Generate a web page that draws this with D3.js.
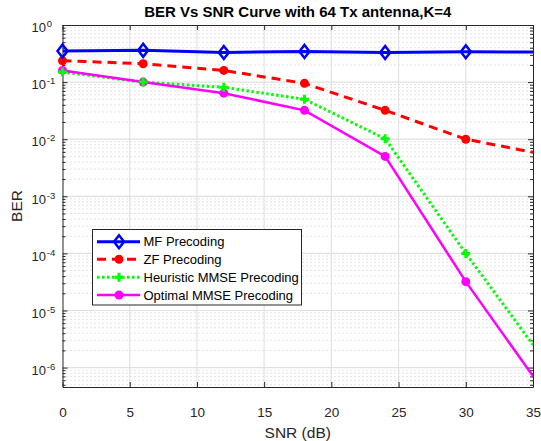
<!DOCTYPE html>
<html><head><meta charset="utf-8">
<script src="https://cdn.jsdelivr.net/npm/d3@7"></script>
<style>body{margin:0;background:#fff;} svg{display:block;} text{font-family:"Liberation Sans",Arial,sans-serif;}</style>
</head><body>
<svg id="c" width="541" height="441"></svg>
<script>
const snr = [0, 6, 12, 18, 24, 30, 36];
const berMF = [0.35, 0.36, 0.33, 0.345, 0.33, 0.34, 0.335];
const berZF = [0.237, 0.21, 0.16, 0.095, 0.032, 0.01, 0.0053];
const berHeur = [0.15, 0.1, 0.081, 0.05, 0.0102, 1e-4, 1.2e-6];
const berOpt = [0.16, 0.1, 0.064, 0.032, 0.005, 3.2e-5, 3.3e-7];
const xTicks = [0, 5, 10, 15, 20, 25, 30, 35];
const yExps = [0, -1, -2, -3, -4, -5, -6];
const title = "BER Vs SNR Curve with 64 Tx antenna,K=4";
const xLabel = "SNR (dB)";
const yLabel = "BER";
const seriesNames = ["MF Precoding", "ZF Precoding", "Heuristic MMSE Precoding", "Optimal MMSE Precoding"];

const svg = d3.select("#c");
const L = 62.5, R = 533, T = 25, B = 387;
const x = d3.scaleLinear().domain([0, 35]).range([L, R]);
const y = d3.scaleLog().domain([Math.pow(10, -6.34), 1]).range([B, T]);

svg.append("defs").append("clipPath").attr("id", "clip")
  .append("rect").attr("x", L).attr("y", T).attr("width", R - L).attr("height", B - T);

// minor y grid (dotted)
const minorVals = [];
for (let e = -7; e < 0; e++) for (let m = 2; m <= 9; m++) {
  const v = m * Math.pow(10, e);
  if (v >= y.domain()[0] && v <= 1) minorVals.push(v);
}
const g = svg.append("g");
g.selectAll(".mg").data(minorVals).enter().append("line")
  .attr("x1", L).attr("x2", R).attr("y1", d => y(d)).attr("y2", d => y(d))
  .attr("stroke", "#c8c8c8").attr("stroke-width", 1).attr("stroke-dasharray", "1,3");
// major grids
g.selectAll(".xg").data(xTicks.slice(1, -1)).enter().append("line")
  .attr("x1", d => x(d)).attr("x2", d => x(d)).attr("y1", T).attr("y2", B)
  .attr("stroke", "#e3e3e3").attr("stroke-width", 1.2);
g.selectAll(".yg").data(yExps.slice(1)).enter().append("line")
  .attr("x1", L).attr("x2", R).attr("y1", d => y(Math.pow(10, d))).attr("y2", d => y(Math.pow(10, d)))
  .attr("stroke", "#e0e0e0").attr("stroke-width", 1.2);

// axes box
const axCol = "#262626";
const bottomAxis = d3.axisBottom(x).tickValues(xTicks).tickSizeInner(-5).tickSizeOuter(0).tickPadding(20).tickFormat(d3.format("d"));
const gx = svg.append("g").attr("transform", `translate(0,${B})`).call(bottomAxis);
gx.select(".domain").attr("stroke", axCol);
gx.selectAll(".tick line").attr("stroke", axCol);
gx.selectAll("text").attr("font-size", 13.5).attr("fill", axCol);
const topAxis = d3.axisTop(x).tickValues(xTicks).tickSizeInner(-5).tickSizeOuter(0).tickFormat("");
const gt = svg.append("g").attr("transform", `translate(0,${T})`).call(topAxis);
gt.select(".domain").attr("stroke", axCol); gt.selectAll(".tick line").attr("stroke", axCol);

const majorY = yExps.map(e => Math.pow(10, e));
const gl = svg.append("g").attr("transform", `translate(${L},0)`)
  .call(d3.axisLeft(y).tickValues(majorY).tickSizeInner(-5).tickSizeOuter(0).tickFormat(""));
gl.select(".domain").attr("stroke", axCol); gl.selectAll(".tick line").attr("stroke", axCol);
gl.append("g").call(d3.axisLeft(y).tickValues(minorVals).tickSizeInner(-3).tickSizeOuter(0).tickFormat(""))
  .call(s => { s.select(".domain").remove(); s.selectAll("line").attr("stroke", axCol); });
const gr = svg.append("g").attr("transform", `translate(${R},0)`)
  .call(d3.axisRight(y).tickValues(majorY).tickSizeInner(-5).tickSizeOuter(0).tickFormat(""));
gr.select(".domain").attr("stroke", axCol); gr.selectAll(".tick line").attr("stroke", axCol);
gr.append("g").call(d3.axisRight(y).tickValues(minorVals).tickSizeInner(-3).tickSizeOuter(0).tickFormat(""))
  .call(s => { s.select(".domain").remove(); s.selectAll("line").attr("stroke", axCol); });

// y tick labels with superscripts
const yl = svg.append("g");
yExps.forEach(e => {
  const t = yl.append("text").attr("y", y(Math.pow(10, e)) + 7.3)
    .attr("font-size", 13).attr("fill", axCol);
  t.append("tspan").text("10");
  t.append("tspan").attr("font-size", 9.5).attr("dx", 0.8).attr("dy", -5).text(String(e));
});
yl.selectAll("text").each(function() {
  const t = d3.select(this);
  const w1 = t.select("tspan").node().getComputedTextLength();
  t.attr("x", 46 - w1);
});

// labels
svg.append("text").attr("x", (L + R) / 2).attr("y", 17).attr("text-anchor", "middle")
  .attr("font-size", 15).attr("font-weight", "bold").attr("fill", "#000").text(title);
svg.append("text").attr("x", (L + R) / 2).attr("y", 438).attr("text-anchor", "middle")
  .attr("font-size", 15.5).attr("fill", axCol).text(xLabel);
svg.append("text").attr("transform", `translate(21.5,${(T + B) / 2}) rotate(-90)`).attr("text-anchor", "middle")
  .attr("font-size", 15.5).attr("fill", axCol).text(yLabel);

// series
const series = [
  {vals: berMF, color: "#0000ff", dash: null, width: 3, marker: "diamond"},
  {vals: berZF, color: "#ff0000", dash: "9,6", width: 3, marker: "circle"},
  {vals: berHeur, color: "#00ff00", dash: "2.5,2.5", width: 3, marker: "plus"},
  {vals: berOpt, color: "#ff00ff", dash: null, width: 2.5, marker: "circle"}
];
const line = d3.line().x((d, i) => x(snr[i])).y(d => y(d));
const plot = svg.append("g").attr("clip-path", "url(#clip)");

function drawMarker(sel, type, color, cx, cy) {
  if (type === "diamond") {
    sel.append("path").attr("d", `M${cx},${cy - 6.5}L${cx + 5},${cy}L${cx},${cy + 6.5}L${cx - 5},${cy}Z`)
      .attr("fill", "none").attr("stroke", color).attr("stroke-width", 2.5);
  } else if (type === "circle") {
    sel.append("circle").attr("cx", cx).attr("cy", cy).attr("r", 4.5).attr("fill", color);
  } else if (type === "plus") {
    sel.append("path").attr("d", `M${cx - 4.5},${cy}H${cx + 4.5}M${cx},${cy - 4.5}V${cy + 4.5}`)
      .attr("stroke", color).attr("stroke-width", 3);
  }
}

series.forEach(s => {
  const p = plot.append("path").datum(s.vals).attr("d", line).attr("fill", "none")
    .attr("stroke", s.color).attr("stroke-width", s.width);
  if (s.dash) p.attr("stroke-dasharray", s.dash);
});
series.slice().reverse().forEach(s => {
  const mg = svg.append("g");
  s.vals.forEach((v, i) => {
    if (snr[i] <= 35) drawMarker(mg, s.marker, s.color, x(snr[i]), y(v));
  });
});

// legend
const lg = svg.append("g");
lg.append("rect").attr("x", 92.5).attr("y", 229.5).attr("width", 209).attr("height", 75.5)
  .attr("fill", "#fff").attr("stroke", axCol).attr("stroke-width", 1);
const ly = [241.7, 259.3, 277.3, 295];
series.forEach((s, i) => {
  const l = lg.append("line").attr("x1", 97).attr("x2", 140).attr("y1", ly[i]).attr("y2", ly[i])
    .attr("stroke", s.color).attr("stroke-width", s.width);
  if (s.dash) l.attr("stroke-dasharray", s.dash);
  drawMarker(lg, s.marker, s.color, 119, ly[i]);
  lg.append("text").attr("x", 143.5).attr("y", ly[i] + 4.6).attr("font-size", 13).attr("fill", "#000")
    .text(seriesNames[i]);
});
</script>
</body></html>
